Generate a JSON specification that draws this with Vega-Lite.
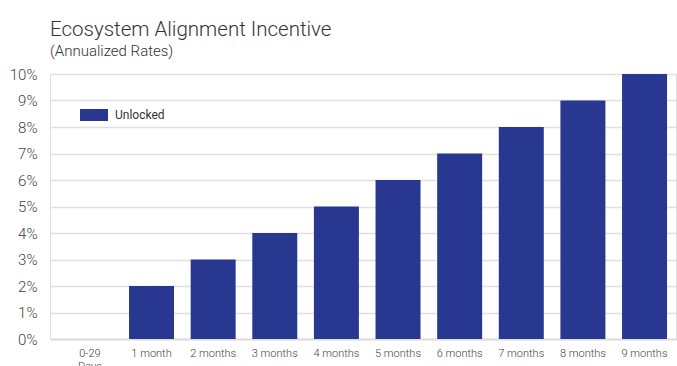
{
  "$schema": "https://vega.github.io/schema/vega-lite/v6.json",
  "autosize": "none",
  "width": 626,
  "height": 265,
  "padding": {"left": 50, "top": 74, "right": 1, "bottom": 27},
  "background": "white",
  "title": {
    "text": "Ecosystem Alignment Incentive",
    "subtitle": "(Annualized Rates)",
    "anchor": "start",
    "frame": "group",
    "font": "Roboto",
    "fontSize": 20.5,
    "fontWeight": 300,
    "color": "#333333",
    "subtitleFont": "Roboto",
    "subtitleFontSize": 15,
    "subtitleFontWeight": 300,
    "subtitleColor": "#333333",
    "subtitlePadding": 4,
    "offset": 8
  },
  "data": {
    "values": [
      {"term": "0-29 Days", "rate": 0, "series": "Unlocked"},
      {"term": "1 month", "rate": 2, "series": "Unlocked"},
      {"term": "2 months", "rate": 3, "series": "Unlocked"},
      {"term": "3 months", "rate": 4, "series": "Unlocked"},
      {"term": "4 months", "rate": 5, "series": "Unlocked"},
      {"term": "5 months", "rate": 6, "series": "Unlocked"},
      {"term": "6 months", "rate": 7, "series": "Unlocked"},
      {"term": "7 months", "rate": 8, "series": "Unlocked"},
      {"term": "8 months", "rate": 9, "series": "Unlocked"},
      {"term": "9 months", "rate": 10, "series": "Unlocked"}
    ]
  },
  "mark": {"type": "bar"},
  "encoding": {
    "x": {
      "field": "term",
      "type": "nominal",
      "sort": null,
      "scale": {"paddingInner": 0.27, "paddingOuter": 0.214, "align": 0.66},
      "axis": {
        "title": null,
        "labelAngle": 0,
        "ticks": false,
        "domain": true,
        "domainColor": "#dddddd",
        "domainWidth": 2,
        "labelFont": "Roboto",
        "labelFontSize": 11,
        "labelFontWeight": 300,
        "labelColor": "#444444",
        "labelPadding": 8,
        "labelLineHeight": 13,
        "labelExpr": "datum.value == '0-29 Days' ? ['0-29', 'Days'] : datum.label"
      }
    },
    "y": {
      "field": "rate",
      "type": "quantitative",
      "scale": {"domain": [0, 10], "nice": false},
      "axis": {
        "title": null,
        "values": [0, 1, 2, 3, 4, 5, 6, 7, 8, 9, 10],
        "labelExpr": "datum.value + '%'",
        "ticks": false,
        "domain": false,
        "grid": true,
        "gridColor": "#e0e0e0",
        "gridWidth": 1.5,
        "labelFont": "Roboto",
        "labelFontSize": 15,
        "labelFontWeight": 300,
        "labelColor": "#444444",
        "labelPadding": 13
      }
    },
    "color": {
      "field": "series",
      "type": "nominal",
      "scale": {"range": ["#283890"]},
      "legend": {
        "title": null,
        "orient": "none",
        "legendX": 30,
        "legendY": 27,
        "symbolType": "M-1,-0.43L1,-0.43L1,0.43L-1,0.43Z",
        "symbolSize": 784,
        "symbolStrokeWidth": 0,
        "labelFont": "Roboto",
        "labelFontSize": 12,
        "labelColor": "#333333",
        "labelOffset": 7
      }
    }
  }
}
